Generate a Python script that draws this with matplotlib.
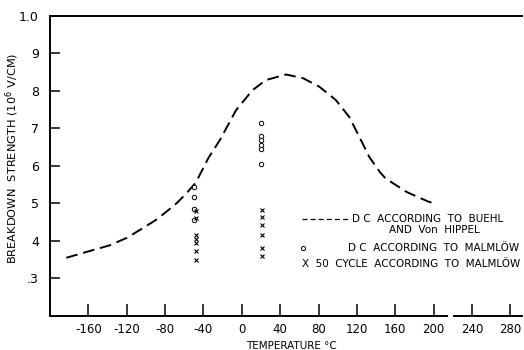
import numpy as np
import matplotlib
matplotlib.use("Agg")
import matplotlib.pyplot as plt

# dashed curve: DC according to Buehl and von Hippel
curve_temp = [-183, -160, -138, -120, -107, -90, -79, -68, -58, -48, -44, -35,
              -23, -6, 11, 25, 46, 64, 81, 98, 112, 126, 133, 144, 150, 172, 194, 200]
curve_val = [3.55, 3.72, 3.88, 4.08, 4.28, 4.55, 4.77, 5.0, 5.26, 5.55, 5.75, 6.2,
             6.68, 7.48, 8.01, 8.28, 8.43, 8.33, 8.1, 7.75, 7.3, 6.59, 6.23, 5.83,
             5.66, 5.3, 5.05, 5.0]

# DC according to Malmlow (circles)
dc_temp = [-50, -50, -50, -50, 20, 20, 20, 20, 20, 20]
dc_val = [5.43, 5.17, 4.84, 4.55, 7.15, 6.8, 6.68, 6.56, 6.44, 6.05]

# 50 cycle according to Malmlow (crosses)
ac_temp = [-48, -48, -48, -48, -48, -48, -48, 21, 21, 21, 21, 21, 21]
ac_val = [4.8, 4.62, 4.15, 4.05, 3.95, 3.72, 3.5, 4.83, 4.63, 4.41, 4.17, 3.82, 3.6]

x_ticks = [-160, -120, -80, -40, 0, 40, 80, 120, 160, 200, 240, 280]
y_ticks = [3, 4, 5, 6, 7, 8, 9, 10]
y_tick_labels = [".3", "4", "5", "6", "7", "8", "9", "1.0"]


def main():
    plt.rcParams["font.family"] = "DejaVu Sans"
    fig = plt.figure(figsize=(5.24, 3.5), dpi=100)
    ax = fig.add_axes([0.0954, 0.0971, 0.9006, 0.8586])

    ax.plot(curve_temp, curve_val, color="black", lw=1.4, linestyle=(0, (6, 3)))
    ax.plot(dc_temp, dc_val, linestyle="none", marker="o", ms=3.2,
            mfc="white", mec="black", mew=0.7)
    ax.plot(ac_temp, ac_val, linestyle="none", marker="x", ms=2.8,
            color="black", mew=0.8)

    ax.set_xlim(-200, 292)
    ax.set_ylim(2, 10)

    ax.spines["right"].set_visible(False)
    ax.spines["bottom"].set_visible(False)
    ax.spines["left"].set_linewidth(1.4)
    ax.spines["top"].set_linewidth(1.4)
    # broken bottom axis
    ax.plot([-200, 214], [2, 2], color="black", lw=1.4, clip_on=False)
    ax.plot([221, 292], [2, 2], color="black", lw=1.4, clip_on=False)

    ax.set_xticks(x_ticks)
    ax.set_xticklabels([str(t) for t in x_ticks])
    ax.set_yticks(y_ticks)
    ax.set_yticklabels(y_tick_labels)
    ax.tick_params(axis="x", direction="in", length=9, width=1.1, pad=5,
                   labelsize=8.5)
    ax.tick_params(axis="y", direction="in", length=7, width=1.1, pad=8,
                   labelsize=9)

    fig.text(291 / 524, 1 - 346 / 350, "TEMPERATURE °C", fontsize=7.5,
             ha="center", va="center")
    fig.text(12 / 524, 1 - 158 / 350, "BREAKDOWN  STRENGTH (10$^6$ V/CM)",
             fontsize=8.2, ha="center", va="center", rotation=90)

    # legend drawn as text
    ax.plot([0.534, 0.638], [0.322, 0.322], transform=ax.transAxes,
            color="black", lw=0.9, linestyle=(0, (4, 2.5)))
    ax.text(0.640, 0.322, "D C  ACCORDING  TO  BUEHL", transform=ax.transAxes,
            fontsize=7.5, va="center", ha="left")
    ax.text(0.718, 0.285, "AND  Von  HIPPEL", transform=ax.transAxes,
            fontsize=7.5, va="center", ha="left")
    ax.plot([0.536], [0.227], transform=ax.transAxes, marker="o", ms=3,
            mfc="white", mec="black", mew=0.7)
    ax.text(0.631, 0.227, "D C  ACCORDING  TO  MALMLÖW", transform=ax.transAxes,
            fontsize=7.5, va="center", ha="left")
    ax.text(0.534, 0.174, "X  50  CYCLE  ACCORDING  TO  MALMLÖW",
            transform=ax.transAxes, fontsize=7.5, va="center", ha="left")

    fig.savefig("out.png", dpi=100)


if __name__ == "__main__":
    main()
